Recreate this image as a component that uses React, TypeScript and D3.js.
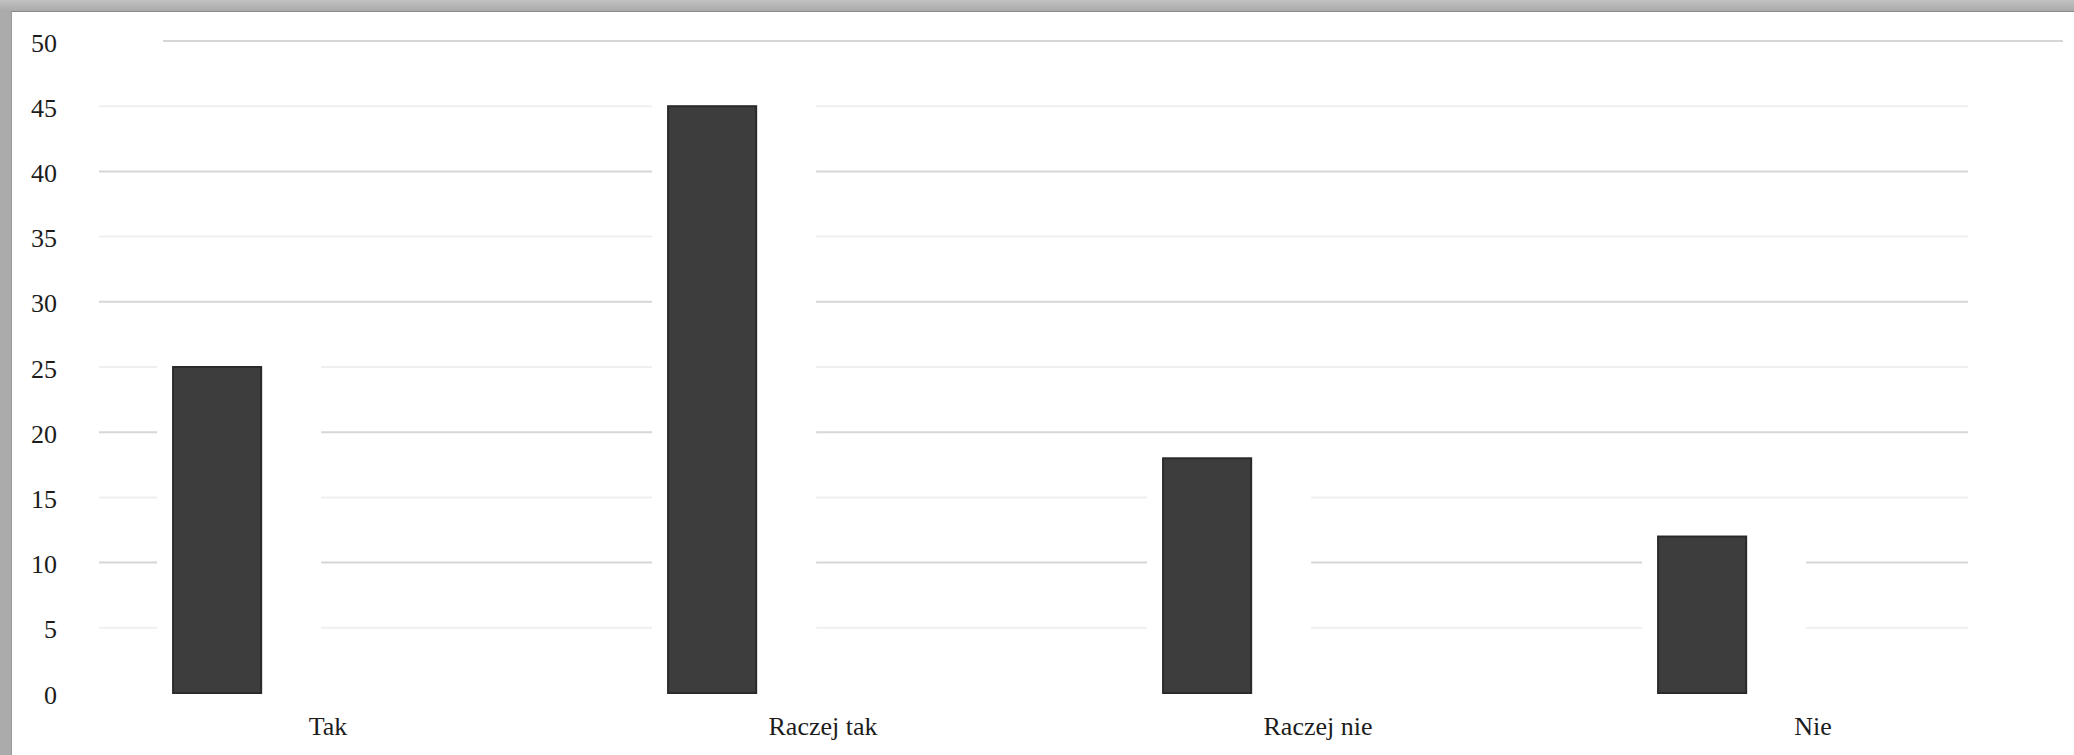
import React from "react";
import * as d3 from "d3";

const categories: string[] = ["Tak", "Raczej tak", "Raczej nie", "Nie"];
const values: number[] = [25, 45, 18, 12];
const yTicks: number[] = [0, 5, 10, 15, 20, 25, 30, 35, 40, 45, 50];

const W = 2074;
const H = 755;

export default function App() {
  const x = d3.scaleBand<string>().domain(categories).range([80.5, 2060.5]).padding(0);
  const y = d3.scaleLinear().domain([0, 50]).range([693, 41]);
  const bw = x.bandwidth();
  const barOff = bw * 0.187;
  const barW = bw * 0.178;
  const gridX0 = 99;
  const gridX1 = 1968;
  const font = "'Liberation Serif', 'Times New Roman', serif";

  return (
    <svg
      width={W}
      height={H}
      style={{ position: "absolute", left: 0, top: 0, display: "block" }}
    >
      <defs>
        <linearGradient id="topg" x1="0" y1="0" x2="0" y2="1">
          <stop offset="0" stopColor="#c2c2c2" />
          <stop offset="1" stopColor="#a8a8a8" />
        </linearGradient>
      </defs>
      <rect x={0} y={0} width={W} height={H} fill="#ababab" />
      <rect x={0} y={0} width={W} height={12} fill="url(#topg)" />
      <rect x={11} y={11} width={W - 11} height={H - 11} fill="#ffffff" />
      <line x1={11} y1={11.5} x2={W} y2={11.5} stroke="#8a8a8a" strokeWidth={1} />
      <line x1={11.5} y1={11} x2={11.5} y2={H} stroke="#9a9a9a" strokeWidth={1} />

      {/* gridlines */}
      {yTicks.filter((t) => t > 0).map((t) => (
        <line
          key={"g" + t}
          x1={t === 50 ? 163 : gridX0}
          x2={t === 50 ? 2063 : gridX1}
          y1={y(t)}
          y2={y(t)}
          stroke={t % 10 === 0 ? "#d6d6d6" : "#efefef"}
          strokeWidth={2}
        />
      ))}

      {/* white halos around bars (scan gaps) */}
      {categories.map((c, i) => (
        <rect
          key={"h" + c}
          x={(x(c) ?? 0) + barOff - 16}
          y={y(values[i]) - 14}
          width={barW + 16 + 60}
          height={y(0) - y(values[i]) + 14}
          fill="#ffffff"
        />
      ))}

      {/* bars */}
      {categories.map((c, i) => (
        <rect
          key={"b" + c}
          x={(x(c) ?? 0) + barOff}
          y={y(values[i])}
          width={barW}
          height={y(0) - y(values[i])}
          fill="#3d3d3d"
          stroke="#2a2a2a"
          strokeWidth={2}
        />
      ))}

      {/* y tick labels */}
      {yTicks.map((t) => (
        <text
          key={"t" + t}
          x={57}
          y={y(t) + 2}
          textAnchor="end"
          dominantBaseline="central"
          fontFamily={font}
          fontSize={26}
          fill="#1c1c1c"
        >
          {t}
        </text>
      ))}

      {/* category labels */}
      {categories.map((c) => (
        <text
          key={"c" + c}
          x={(x(c) ?? 0) + bw / 2}
          y={735}
          textAnchor="middle"
          fontFamily={font}
          fontSize={26}
          fill="#1c1c1c"
        >
          {c}
        </text>
      ))}
    </svg>
  );
}
